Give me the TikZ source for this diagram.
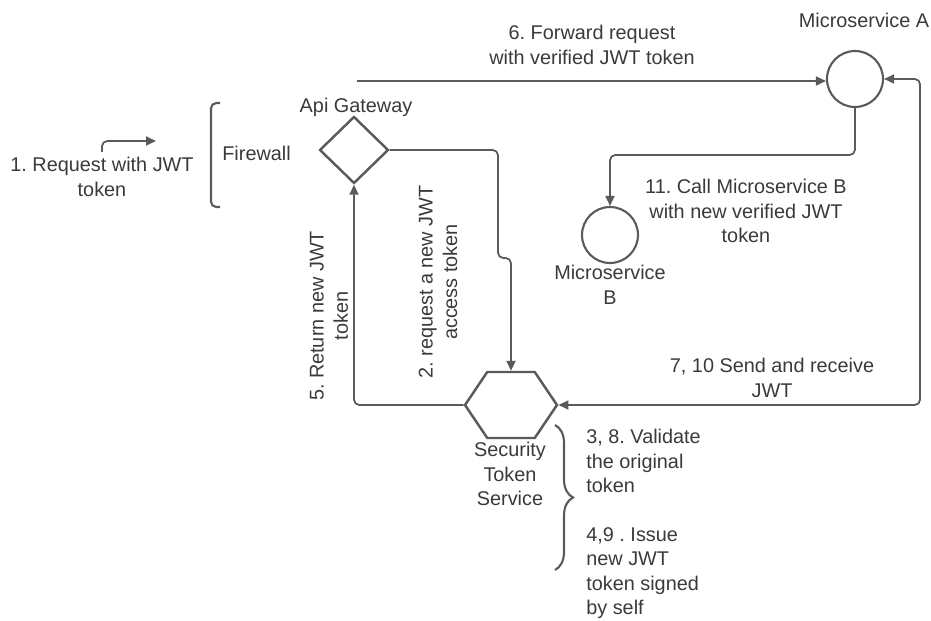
\documentclass[tikz,border=0pt]{standalone}
\usepackage{fontspec}
\setmainfont{Liberation Sans}
\usepackage{tikz}
\usetikzlibrary{arrows.meta, positioning, shapes.geometric, shapes.symbols, decorations.pathreplacing}
\definecolor{linegray}{HTML}{5a5a5a}
\definecolor{textgray}{HTML}{3a3a3a}
\frenchspacing

\begin{document}
\begin{tikzpicture}[
    x=0.02cm, y=-0.02cm,
    >={Triangle[length=2mm, width=1.8mm]},
    txt/.style={font=\fontsize{11.3}{13.9}\selectfont, text=textgray, align=center, inner sep=0pt},
    gate/.style={diamond, draw=linegray, line width=1.4pt, minimum width=1.38cm, minimum height=1.34cm, inner sep=0pt},
    service/.style={circle, draw=linegray, line width=1.2pt, minimum size=1.12cm, inner sep=0pt},
    hexa/.style={signal, signal to=east and west, signal pointer angle=112, draw=linegray, line width=1.4pt, minimum width=1.84cm, minimum height=1.32cm, inner sep=0pt},
    flow/.style={->, line width=1pt, linegray, rounded corners=3pt},
    bracket/.style={line width=1.2pt, linegray, rounded corners=3pt},
    curly/.style={line width=1.2pt, linegray, decorate, decoration={brace, amplitude=0.36cm}},
  ]
  \useasboundingbox (0,0) rectangle (931,621);
  % Request
  \node[txt] (req) at (102,177) {1. Request with JWT\\token};
  \coordinate (reqs) at (102,152);
  \coordinate (reqe) at (156,141);
  \draw[flow] (reqs) |- (reqe);
  % Firewall
  \draw[bracket] (220,103) -- (211,103) -- (211,207) -- (220,207);
  \node[txt, anchor=west] (fw) at (222,153) {Firewall};
  % Api gateway
  \node[gate] (gw) at (354,150) {};
  \node[txt] (gwl) at (356,107) {Api Gateway};
  % Microservices
  \node[service] (msa) at (855,79) {};
  \node[txt] (msal) at (864,20) {Microservice A};
  \node[service, minimum size=1.12cm] (msb) at (610,235) {};
  \node[txt] (msbl) at (610,285) {Microservice\\B};
  % Security token service
  \node[hexa] (sts) at (511,405) {};
  \node[txt] (stsl) at (510,474) {Security\\Token\\Service};
  % Forward
  \coordinate (fwd) at (357,81);
  \draw[flow] (fwd) -- (fwd -| msa.west);
  \node[txt] (fwdl) at (592,45) {6. Forward request\\with verified JWT token};
  % Call B
  \coordinate (bend) at (610,155);
  \draw[flow] (msa.south) |- (bend) -- (msb.north);
  \node[txt] (calll) at (746,211) {11. Call Microservice B\\with new verified JWT\\token};
  % Send and receive
  \draw[flow, <->] (msa.east) -- ++(36,0) |- (sts.east);
  \node[txt] (sendl) at (772,378) {7, 10 Send and receive\\JWT};
  % Request / return
  \coordinate (jog) at (498,258);
  \draw[flow] (gw.east) -| (jog) -| (sts.north);
  \node[txt, rotate=90] (reql) at (438,282) {2. request a new JWT\\access token};
  \draw[flow] (sts.west) -| (gw.south);
  \node[txt, rotate=90] (retl) at (329,316) {5. Return new JWT\\token};
  % Steps
  \draw[curly] (555,425) -- (555,570);
  \node[txt, align=left, anchor=west] (stepl) at (586,524) {3, 8. Validate\\the original\\token\\[0.49cm]4,9 . Issue\\new JWT\\token signed\\by self};
\end{tikzpicture}
\end{document}
